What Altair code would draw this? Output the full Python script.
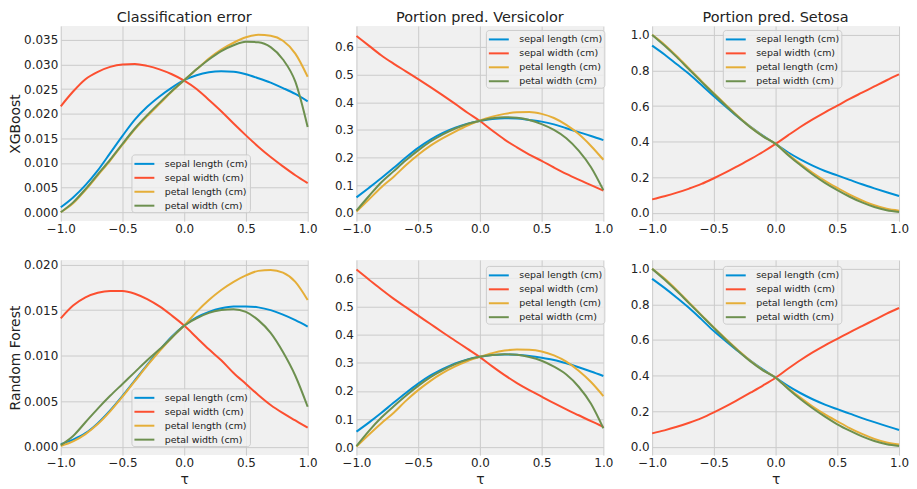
import altair as alt
import pandas as pd

# ---------------- data ----------------
TAU = [-1.0, -0.9, -0.8, -0.7, -0.6, -0.5, -0.4, -0.3, -0.2, -0.1, 0.0,
       0.1, 0.2, 0.3, 0.4, 0.5, 0.6, 0.7, 0.8, 0.9, 1.0]

FEATURES = ["sepal length (cm)", "sepal width (cm)", "petal length (cm)", "petal width (cm)"]
COLORS = ["#008fd5", "#fc4f30", "#e5ae38", "#6d904f"]
MODELS = ["XGBoost", "Random Forest"]
METRICS = ["Classification error", "Portion pred. Versicolor", "Portion pred. Setosa"]

X_TICKS = [-1.0, -0.5, 0.0, 0.5, 1.0]
ERR_TICKS_XGB = [0.0, 0.005, 0.010, 0.015, 0.020, 0.025, 0.030, 0.035]
ERR_TICKS_RF = [0.0, 0.005, 0.010, 0.015, 0.020]
VERS_TICKS = [0.0, 0.1, 0.2, 0.3, 0.4, 0.5, 0.6]
SETO_TICKS = [0.0, 0.2, 0.4, 0.6, 0.8, 1.0]

# XGBoost - classification error
XGB_ERR_SL = [0.0010, 0.0030, 0.0055, 0.0085, 0.0120, 0.0155, 0.0188, 0.0214, 0.0235, 0.0253, 0.0268,
              0.0278, 0.0284, 0.0286, 0.0285, 0.0280, 0.0272, 0.0263, 0.0252, 0.0240, 0.0225]
XGB_ERR_SW = [0.0215, 0.0245, 0.0270, 0.0285, 0.0295, 0.0300, 0.0301, 0.0297, 0.0290, 0.0280, 0.0267,
              0.0250, 0.0228, 0.0205, 0.0180, 0.0156, 0.0133, 0.0112, 0.0093, 0.0075, 0.0059]
XGB_ERR_PL = [0.0000, 0.0018, 0.0045, 0.0075, 0.0105, 0.0137, 0.0168, 0.0195, 0.0220, 0.0245, 0.0268,
              0.0290, 0.0312, 0.0330, 0.0344, 0.0355, 0.0360, 0.0358, 0.0348, 0.0322, 0.0275]
XGB_ERR_PW = [0.0000, 0.0020, 0.0047, 0.0077, 0.0107, 0.0139, 0.0170, 0.0197, 0.0222, 0.0246, 0.0268,
              0.0290, 0.0310, 0.0327, 0.0339, 0.0346, 0.0345, 0.0335, 0.0310, 0.0265, 0.0173]

# XGBoost - portion predicted Versicolor
XGB_VER_SL = [0.056, 0.090, 0.125, 0.162, 0.200, 0.235, 0.265, 0.289, 0.308, 0.322, 0.332,
              0.339, 0.342, 0.341, 0.336, 0.330, 0.320, 0.306, 0.292, 0.278, 0.263]
XGB_VER_SW = [0.640, 0.605, 0.570, 0.540, 0.512, 0.484, 0.455, 0.425, 0.394, 0.362, 0.332,
              0.298, 0.265, 0.237, 0.211, 0.188, 0.164, 0.141, 0.120, 0.100, 0.080]
XGB_VER_PL = [0.005, 0.048, 0.092, 0.130, 0.172, 0.210, 0.243, 0.270, 0.294, 0.316, 0.334,
              0.348, 0.358, 0.364, 0.365, 0.358, 0.343, 0.318, 0.285, 0.242, 0.192]
XGB_VER_PW = [0.008, 0.060, 0.110, 0.150, 0.190, 0.226, 0.258, 0.284, 0.305, 0.322, 0.333,
              0.342, 0.346, 0.344, 0.336, 0.321, 0.300, 0.270, 0.225, 0.165, 0.082]

# XGBoost - portion predicted Setosa
XGB_SET_SL = [0.940, 0.890, 0.835, 0.780, 0.718, 0.655, 0.595, 0.535, 0.482, 0.432, 0.387,
              0.340, 0.300, 0.265, 0.235, 0.210, 0.185, 0.160, 0.137, 0.115, 0.094]
XGB_SET_SW = [0.075, 0.093, 0.113, 0.136, 0.162, 0.194, 0.228, 0.265, 0.303, 0.343, 0.387,
              0.435, 0.482, 0.525, 0.565, 0.602, 0.640, 0.675, 0.710, 0.745, 0.778]
XGB_SET_PL = [1.000, 0.945, 0.880, 0.810, 0.740, 0.672, 0.605, 0.540, 0.480, 0.430, 0.387,
              0.330, 0.275, 0.225, 0.180, 0.140, 0.102, 0.070, 0.042, 0.022, 0.012]
XGB_SET_PW = [1.000, 0.940, 0.875, 0.805, 0.736, 0.668, 0.600, 0.537, 0.478, 0.428, 0.387,
              0.325, 0.268, 0.215, 0.168, 0.127, 0.090, 0.058, 0.032, 0.014, 0.004]

# Random Forest - classification error
RF_ERR_SL = [0.0003, 0.0008, 0.0015, 0.0026, 0.0040, 0.0056, 0.0073, 0.0090, 0.0106, 0.0121, 0.0133,
             0.0142, 0.0148, 0.0152, 0.0154, 0.0154, 0.0153, 0.0150, 0.0145, 0.0139, 0.0132]
RF_ERR_SW = [0.0141, 0.0155, 0.0164, 0.0169, 0.0171, 0.0171, 0.0168, 0.0162, 0.0154, 0.0144, 0.0133,
             0.0120, 0.0107, 0.0095, 0.0081, 0.0069, 0.0057, 0.0046, 0.0037, 0.0029, 0.0021]
RF_ERR_PL = [0.0001, 0.0006, 0.0014, 0.0025, 0.0039, 0.0055, 0.0072, 0.0089, 0.0105, 0.0120, 0.0133,
             0.0148, 0.0161, 0.0172, 0.0181, 0.0188, 0.0193, 0.0194, 0.0191, 0.0181, 0.0161]
RF_ERR_PW = [0.0002, 0.0012, 0.0027, 0.0042, 0.0056, 0.0069, 0.0082, 0.0095, 0.0107, 0.0120, 0.0133,
             0.0141, 0.0147, 0.0150, 0.0151, 0.0148, 0.0139, 0.0125, 0.0104, 0.0078, 0.0044]

# Random Forest - portion predicted Versicolor
RF_VER_SL = [0.056, 0.088, 0.122, 0.158, 0.193, 0.226, 0.255, 0.278, 0.298, 0.312, 0.321,
             0.327, 0.329, 0.328, 0.324, 0.318, 0.310, 0.298, 0.284, 0.269, 0.253]
RF_VER_SW = [0.630, 0.595, 0.560, 0.527, 0.497, 0.467, 0.437, 0.407, 0.378, 0.349, 0.320,
             0.287, 0.256, 0.228, 0.203, 0.180, 0.157, 0.135, 0.114, 0.093, 0.073]
RF_VER_PL = [0.003, 0.045, 0.085, 0.122, 0.165, 0.203, 0.236, 0.264, 0.287, 0.306, 0.321,
             0.334, 0.343, 0.347, 0.346, 0.340, 0.326, 0.304, 0.272, 0.232, 0.182]
RF_VER_PW = [0.005, 0.058, 0.105, 0.145, 0.183, 0.218, 0.249, 0.274, 0.295, 0.311, 0.321,
             0.327, 0.330, 0.328, 0.320, 0.307, 0.286, 0.258, 0.215, 0.155, 0.068]

# Random Forest - portion predicted Setosa
RF_SET_SL = [0.944, 0.893, 0.838, 0.780, 0.716, 0.650, 0.592, 0.535, 0.482, 0.433, 0.388,
             0.342, 0.302, 0.267, 0.237, 0.211, 0.186, 0.161, 0.138, 0.116, 0.094]
RF_SET_SW = [0.075, 0.092, 0.112, 0.135, 0.161, 0.193, 0.228, 0.266, 0.305, 0.345, 0.388,
             0.438, 0.486, 0.530, 0.570, 0.606, 0.643, 0.678, 0.713, 0.748, 0.780]
RF_SET_PL = [1.000, 0.945, 0.880, 0.810, 0.740, 0.670, 0.604, 0.540, 0.480, 0.430, 0.388,
             0.330, 0.276, 0.226, 0.182, 0.143, 0.105, 0.072, 0.044, 0.024, 0.013]
RF_SET_PW = [1.000, 0.940, 0.875, 0.806, 0.737, 0.668, 0.600, 0.537, 0.478, 0.428, 0.388,
             0.326, 0.268, 0.216, 0.169, 0.126, 0.090, 0.058, 0.032, 0.014, 0.004]

SERIES = {
    ("XGBoost", "Classification error"): [XGB_ERR_SL, XGB_ERR_SW, XGB_ERR_PL, XGB_ERR_PW],
    ("XGBoost", "Portion pred. Versicolor"): [XGB_VER_SL, XGB_VER_SW, XGB_VER_PL, XGB_VER_PW],
    ("XGBoost", "Portion pred. Setosa"): [XGB_SET_SL, XGB_SET_SW, XGB_SET_PL, XGB_SET_PW],
    ("Random Forest", "Classification error"): [RF_ERR_SL, RF_ERR_SW, RF_ERR_PL, RF_ERR_PW],
    ("Random Forest", "Portion pred. Versicolor"): [RF_VER_SL, RF_VER_SW, RF_VER_PL, RF_VER_PW],
    ("Random Forest", "Portion pred. Setosa"): [RF_SET_SL, RF_SET_SW, RF_SET_PL, RF_SET_PW],
}

rows = []
for (model, metric), lists in SERIES.items():
    for feat, vals in zip(FEATURES, lists):
        for t, v in zip(TAU, vals):
            rows.append({"model": model, "metric": metric, "feature": feat, "tau": t, "value": v})
df = pd.DataFrame(rows)

# panel settings: y domain, ticks, format, legend position
PANEL = {
    ("XGBoost", "Classification error"): ([-0.0018, 0.0378], ERR_TICKS_XGB, ".3f", 71, 129),
    ("XGBoost", "Portion pred. Versicolor"): ([-0.030, 0.676], VERS_TICKS, ".1f", 130, 4),
    ("XGBoost", "Portion pred. Setosa"): ([-0.047, 1.05], SETO_TICKS, ".1f", 71, 4),
    ("Random Forest", "Classification error"): ([-0.0009, 0.0205], ERR_TICKS_RF, ".3f", 71, 129),
    ("Random Forest", "Portion pred. Versicolor"): ([-0.027, 0.664], VERS_TICKS, ".1f", 130, 6),
    ("Random Forest", "Portion pred. Setosa"): ([-0.047, 1.05], SETO_TICKS, ".1f", 71, 6),
}

W, H = 248, 196


def panel(model, metric, r, c):
    ydom, yticks, yfmt, lx, ly = PANEL[(model, metric)]
    d = df[(df.model == model) & (df.metric == metric)]
    xaxis = alt.Axis(values=X_TICKS, format=".1f", title="τ" if r == 1 else None,
                     titlePadding=5, labelPadding=2)
    yaxis = alt.Axis(values=yticks, format=yfmt, title=model if c == 0 else None)
    ch = alt.Chart(d).mark_line(strokeWidth=2, interpolate="monotone").encode(
        x=alt.X("tau:Q", scale=alt.Scale(domain=[-1, 1], nice=False, zero=False), axis=xaxis),
        y=alt.Y("value:Q", scale=alt.Scale(domain=ydom, nice=False, zero=False), axis=yaxis),
        color=alt.Color("feature:N", scale=alt.Scale(domain=FEATURES, range=COLORS),
                        legend=alt.Legend(orient="none", legendX=lx, legendY=ly, title=None)),
        order=alt.Order("tau:Q"),
    ).properties(width=W, height=H)
    if r == 0:
        ch = ch.properties(title=metric)
    return ch


panels = []
for r, model in enumerate(MODELS):
    for c, m in enumerate(METRICS):
        panels.append(panel(model, m, r, c))

chart = alt.concat(*panels, columns=3, spacing={"row": 39, "column": 49}, bounds="flush")
chart = chart.resolve_scale(x="independent", y="independent", color="shared").resolve_legend(color="independent")
chart = chart.properties(padding={"left": 0, "top": 0, "right": 0, "bottom": 0})

chart = chart.configure_view(fill="#f0f0f0", strokeWidth=0).configure_axis(
    grid=True, gridColor="#cbcbcb", gridWidth=1, domain=False, ticks=False,
    labelFont="DejaVu Sans", labelFontSize=12, labelColor="#222222", labelPadding=3,
    labelFlush=False, labelOverlap=False,
    titleFont="DejaVu Sans", titleFontSize=14, titleFontWeight="normal", titleColor="#222222",
    titlePadding=1,
).configure_title(
    font="DejaVu Sans", fontSize=14.5, fontWeight="normal", color="#222222", offset=1, anchor="middle"
).configure_legend(
    labelFont="DejaVu Sans", labelFontSize=9.5, labelColor="#222222",
    symbolType="M-1.54,0H1.54", symbolSize=169, symbolStrokeWidth=2, symbolOffset=3.5,
    labelOffset=13, padding=2, rowPadding=2,
    fillColor="rgba(240,240,240,0.8)", strokeColor="#cccccc", cornerRadius=3,
)

chart.save("out.html", embed_options={"renderer": "svg", "actions": False})
